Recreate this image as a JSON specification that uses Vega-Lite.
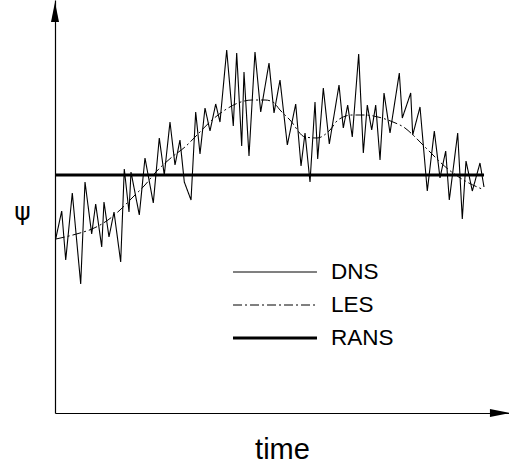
{
  "$schema": "https://vega.github.io/schema/vega-lite/v6.json",
  "width": 454,
  "height": 413,
  "autosize": {"type": "none"},
  "padding": {"left": 55, "top": 0, "right": 0, "bottom": 53},
  "background": "white",
  "config": {"view": {"stroke": null}, "font": "Liberation Sans"},
  "datasets": {
    "dns": [
      {"model": "DNS", "t": 0.015, "psi": -0.64}, {"model": "DNS", "t": 0.148, "psi": -0.36},
      {"model": "DNS", "t": 0.236, "psi": -0.85}, {"model": "DNS", "t": 0.381, "psi": -0.18},
      {"model": "DNS", "t": 0.566, "psi": -1.09}, {"model": "DNS", "t": 0.661, "psi": -0.07},
      {"model": "DNS", "t": 0.808, "psi": -0.59}, {"model": "DNS", "t": 0.896, "psi": -0.29},
      {"model": "DNS", "t": 1.029, "psi": -0.72}, {"model": "DNS", "t": 1.079, "psi": -0.27},
      {"model": "DNS", "t": 1.189, "psi": -0.62}, {"model": "DNS", "t": 1.3, "psi": -0.37},
      {"model": "DNS", "t": 1.447, "psi": -0.87}, {"model": "DNS", "t": 1.526, "psi": 0.06},
      {"model": "DNS", "t": 1.63, "psi": -0.37}, {"model": "DNS", "t": 1.674, "psi": 0.03},
      {"model": "DNS", "t": 1.857, "psi": -0.4}, {"model": "DNS", "t": 1.982, "psi": 0.17},
      {"model": "DNS", "t": 2.165, "psi": -0.28}, {"model": "DNS", "t": 2.297, "psi": 0.37},
      {"model": "DNS", "t": 2.407, "psi": 0.0}, {"model": "DNS", "t": 2.533, "psi": 0.53},
      {"model": "DNS", "t": 2.643, "psi": 0.1}, {"model": "DNS", "t": 2.753, "psi": 0.35},
      {"model": "DNS", "t": 2.848, "psi": -0.07}, {"model": "DNS", "t": 2.996, "psi": -0.25},
      {"model": "DNS", "t": 3.099, "psi": 0.63}, {"model": "DNS", "t": 3.194, "psi": 0.21},
      {"model": "DNS", "t": 3.304, "psi": 0.67}, {"model": "DNS", "t": 3.414, "psi": 0.44},
      {"model": "DNS", "t": 3.54, "psi": 0.71}, {"model": "DNS", "t": 3.634, "psi": 0.53},
      {"model": "DNS", "t": 3.782, "psi": 1.25}, {"model": "DNS", "t": 3.927, "psi": 0.49},
      {"model": "DNS", "t": 4.002, "psi": 1.22}, {"model": "DNS", "t": 4.112, "psi": 0.29},
      {"model": "DNS", "t": 4.163, "psi": 1.03}, {"model": "DNS", "t": 4.273, "psi": 0.19},
      {"model": "DNS", "t": 4.405, "psi": 1.23}, {"model": "DNS", "t": 4.531, "psi": 0.63},
      {"model": "DNS", "t": 4.714, "psi": 1.12}, {"model": "DNS", "t": 4.824, "psi": 0.62},
      {"model": "DNS", "t": 4.956, "psi": 0.95}, {"model": "DNS", "t": 5.117, "psi": 0.3},
      {"model": "DNS", "t": 5.302, "psi": 0.71}, {"model": "DNS", "t": 5.419, "psi": 0.09},
      {"model": "DNS", "t": 5.507, "psi": 0.42}, {"model": "DNS", "t": 5.617, "psi": -0.07},
      {"model": "DNS", "t": 5.727, "psi": 0.73}, {"model": "DNS", "t": 5.786, "psi": 0.16},
      {"model": "DNS", "t": 5.91, "psi": 0.87}, {"model": "DNS", "t": 6.042, "psi": 0.31},
      {"model": "DNS", "t": 6.256, "psi": 0.9}, {"model": "DNS", "t": 6.35, "psi": 0.47},
      {"model": "DNS", "t": 6.447, "psi": 0.7}, {"model": "DNS", "t": 6.548, "psi": 0.38},
      {"model": "DNS", "t": 6.689, "psi": 1.21}, {"model": "DNS", "t": 6.791, "psi": 0.22},
      {"model": "DNS", "t": 6.879, "psi": 0.7}, {"model": "DNS", "t": 6.976, "psi": 0.45},
      {"model": "DNS", "t": 7.064, "psi": 0.7}, {"model": "DNS", "t": 7.159, "psi": 0.15},
      {"model": "DNS", "t": 7.247, "psi": 0.82}, {"model": "DNS", "t": 7.379, "psi": 0.42},
      {"model": "DNS", "t": 7.584, "psi": 1.02}, {"model": "DNS", "t": 7.65, "psi": 0.57},
      {"model": "DNS", "t": 7.835, "psi": 0.82}, {"model": "DNS", "t": 7.879, "psi": 0.4},
      {"model": "DNS", "t": 8.04, "psi": 0.68}, {"model": "DNS", "t": 8.2, "psi": -0.16},
      {"model": "DNS", "t": 8.355, "psi": 0.44}, {"model": "DNS", "t": 8.48, "psi": -0.03},
      {"model": "DNS", "t": 8.606, "psi": 0.24}, {"model": "DNS", "t": 8.685, "psi": -0.25},
      {"model": "DNS", "t": 8.87, "psi": 0.42}, {"model": "DNS", "t": 8.971, "psi": -0.44},
      {"model": "DNS", "t": 9.053, "psi": 0.14}, {"model": "DNS", "t": 9.192, "psi": -0.16},
      {"model": "DNS", "t": 9.361, "psi": 0.12}, {"model": "DNS", "t": 9.449, "psi": -0.12}
    ],
    "les": [
      {"model": "LES", "t": 0.022, "psi": -0.64}, {"model": "LES", "t": 0.551, "psi": -0.58},
      {"model": "LES", "t": 0.815, "psi": -0.54}, {"model": "LES", "t": 1.167, "psi": -0.45},
      {"model": "LES", "t": 1.432, "psi": -0.35}, {"model": "LES", "t": 1.718, "psi": -0.22},
      {"model": "LES", "t": 1.982, "psi": -0.1}, {"model": "LES", "t": 2.203, "psi": 0.02},
      {"model": "LES", "t": 2.577, "psi": 0.18}, {"model": "LES", "t": 2.863, "psi": 0.28},
      {"model": "LES", "t": 3.128, "psi": 0.4}, {"model": "LES", "t": 3.458, "psi": 0.55},
      {"model": "LES", "t": 3.744, "psi": 0.65}, {"model": "LES", "t": 4.031, "psi": 0.72},
      {"model": "LES", "t": 4.339, "psi": 0.75}, {"model": "LES", "t": 4.626, "psi": 0.75},
      {"model": "LES", "t": 4.802, "psi": 0.73}, {"model": "LES", "t": 4.956, "psi": 0.65},
      {"model": "LES", "t": 5.176, "psi": 0.55}, {"model": "LES", "t": 5.507, "psi": 0.38},
      {"model": "LES", "t": 5.771, "psi": 0.37}, {"model": "LES", "t": 6.057, "psi": 0.45},
      {"model": "LES", "t": 6.233, "psi": 0.55}, {"model": "LES", "t": 6.542, "psi": 0.6},
      {"model": "LES", "t": 6.828, "psi": 0.6}, {"model": "LES", "t": 7.115, "psi": 0.58},
      {"model": "LES", "t": 7.445, "psi": 0.53}, {"model": "LES", "t": 7.709, "psi": 0.47},
      {"model": "LES", "t": 7.885, "psi": 0.4}, {"model": "LES", "t": 8.106, "psi": 0.3},
      {"model": "LES", "t": 8.326, "psi": 0.2}, {"model": "LES", "t": 8.48, "psi": 0.13},
      {"model": "LES", "t": 8.767, "psi": 0.02}, {"model": "LES", "t": 9.075, "psi": -0.07},
      {"model": "LES", "t": 9.405, "psi": -0.14}
    ],
    "rans": [
      {"model": "RANS", "t": 0.0, "psi": 0.0}, {"model": "RANS", "t": 9.45, "psi": 0.0}
    ],
    "arrowUp": [{"t": 0.0, "psi": 1.63}],
    "arrowRight": [{"t": 9.8, "psi": -2.38}]
  },
  "encoding": {
    "x": {
      "field": "t", "type": "quantitative",
      "scale": {"domain": [0, 10], "nice": false, "zero": false},
      "axis": {
        "domain": true, "domainColor": "black", "domainWidth": 1.2,
        "ticks": false, "labels": false, "grid": false,
        "title": "time", "titleFont": "Liberation Sans", "titleFontSize": 29,
        "titleFontWeight": "normal", "titleColor": "black", "titlePadding": 22
      }
    },
    "y": {
      "field": "psi", "type": "quantitative",
      "scale": {"domain": [-2.38, 1.75], "nice": false, "zero": false},
      "axis": {
        "domain": true, "domainColor": "black", "domainWidth": 1.2,
        "ticks": false, "labels": false, "grid": false,
        "title": "ψ", "titleFont": "DejaVu Sans", "titleFontSize": 25,
        "titleFontWeight": "normal", "titleColor": "black",
        "titleAngle": 0, "titleX": -33, "titleY": 219,
        "titleAlign": "center", "titleBaseline": "alphabetic"
      }
    }
  },
  "layer": [
    {
      "data": {"name": "dns"},
      "mark": {"type": "line", "color": "black", "strokeWidth": 1.1},
      "encoding": {
        "strokeDash": {
          "field": "model", "type": "nominal",
          "scale": {"domain": ["DNS", "LES", "RANS"], "range": [[1, 0], [9, 3, 2, 3], [1, 0]]},
          "legend": {
            "title": null, "orient": "none", "legendX": 208.75, "legendY": 260.75,
            "symbolType": "M-5,0H5", "symbolSize": 282,
            "symbolStrokeColor": "black", "symbolFillColor": "transparent",
            "labelFont": "Liberation Sans", "labelFontSize": 22.5, "labelColor": "black",
            "labelOffset": 44.75, "rowPadding": 10, "padding": 0,
            "encode": {"symbols": {"update": {"strokeWidth": {"signal": "datum.value === 'RANS' ? 3 : 1"}}}}
          }
        }
      }
    },
    {
      "data": {"name": "les"},
      "mark": {"type": "line", "color": "black", "strokeWidth": 1, "interpolate": "monotone"},
      "encoding": {
        "strokeDash": {
          "field": "model", "type": "nominal",
          "scale": {"domain": ["DNS", "LES", "RANS"], "range": [[1, 0], [9, 3, 2, 3], [1, 0]]}
        }
      }
    },
    {
      "data": {"name": "rans"},
      "mark": {"type": "line", "color": "black", "strokeWidth": 3},
      "encoding": {
        "strokeDash": {
          "field": "model", "type": "nominal",
          "scale": {"domain": ["DNS", "LES", "RANS"], "range": [[1, 0], [9, 3, 2, 3], [1, 0]]}
        }
      }
    },
    {
      "data": {"name": "arrowUp"},
      "mark": {"type": "point", "shape": "M0,-1L0.4,1L-0.4,1Z", "size": 400, "filled": true, "color": "black", "opacity": 1, "strokeWidth": 0}
    },
    {
      "data": {"name": "arrowRight"},
      "mark": {"type": "point", "shape": "M1,0L-1,0.4L-1,-0.4Z", "size": 400, "filled": true, "color": "black", "opacity": 1, "strokeWidth": 0}
    }
  ]
}
